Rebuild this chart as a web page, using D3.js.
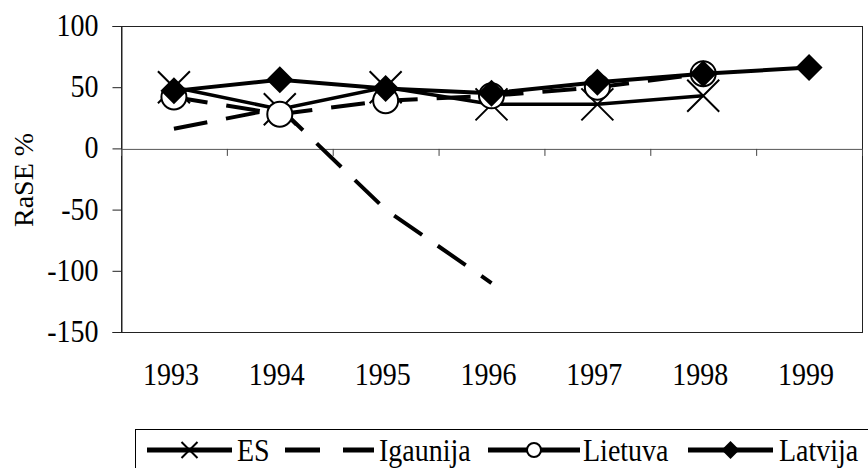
<!DOCTYPE html>
<html lang="en">
<head>
<meta charset="UTF-8">
<title>RaSE %</title>
<script src="https://d3js.org/d3.v7.min.js"></script>
<style>
  body { margin: 0; background: #fff; }
</style>
</head>
<body>
<svg id="chart" width="868" height="468"></svg>
<script>
const years = ["1993", "1994", "1995", "1996", "1997", "1998", "1999"]
const yTicks = [100, 50, 0, -50, -100, -150]
const es = [50, 32, 50, 36, 36, 43, null]
const igaunija = [16, 33, -50, -110, null, null, null]
const lietuva = [42, 28, 39, 43, 50, 61, null]
const latvija = [47, 56, 49, 45, 54, 61, 66]
const seriesNames = ["ES", "Igaunija", "Lietuva", "Latvija"]

const serif = "Liberation Serif"
const fs = "28px"
const sy = 1.12   // the original lettering is a little taller than wide

const svg = d3.select("#chart")
const plotL = 121, plotR = 862, plotT = 26, plotB = 332

const x = d3.scaleBand().domain(years).range([plotL, plotR])
const xb = d3.scaleLinear().domain([0, years.length]).range([plotL, plotR])
const y = d3.scaleLinear().domain([-150, 100]).range([plotB, plotT])
const cx = yr => x(yr) + x.bandwidth() / 2

// plot frame
svg.append("rect")
  .attr("x", plotL + 0.5).attr("y", plotT + 0.5)
  .attr("width", plotR - plotL).attr("height", plotB - plotT)
  .attr("fill", "none").attr("stroke", "#222").attr("stroke-width", 1)

// y axis
svg.append("g")
  .attr("transform", "translate(" + (plotL + 0.5) + ",0)")
  .call(d3.axisLeft(y).tickValues(yTicks).tickSize(9).tickPadding(14).tickFormat(d => String(d)))
  .call(g => g.select(".domain").attr("stroke", "#222"))
  .call(g => g.selectAll("line").attr("stroke", "#222"))
  .call(g => g.selectAll("text").attr("dy", "0.3em").attr("transform", "scale(1," + sy + ")")
    .style("font-size", fs).style("font-family", serif).attr("fill", "#000"))

// zero line with category boundary ticks
svg.append("g")
  .attr("transform", "translate(0," + (y(0) + 0.5) + ")")
  .call(d3.axisBottom(xb).tickValues(d3.range(1, years.length + 1)).tickSize(7).tickFormat(""))
  .call(g => g.select(".domain").attr("stroke", "#555"))
  .call(g => g.selectAll("line").attr("stroke", "#444"))

// year labels below plot
svg.append("g")
  .attr("transform", "translate(-3," + plotB + ")")
  .call(d3.axisBottom(x).tickSize(0))
  .call(g => g.select(".domain").remove())
  .call(g => g.selectAll("text").attr("y", 53 / sy).attr("dy", 0).attr("transform", "scale(1," + sy + ")")
    .style("font-size", fs).style("font-family", serif).attr("fill", "#000"))

// y title
svg.append("text")
  .attr("transform", "translate(33,180) rotate(-90)")
  .attr("text-anchor", "middle")
  .style("font-size", fs).style("font-family", serif)
  .text("RaSE %")

const line = d3.line()
  .defined(d => d.v != null)
  .x(d => cx(d.yr))
  .y(d => y(d.v))
const pts = arr => years.map((yr, i) => ({ yr: yr, v: arr[i] }))

function drawX(g, px, py, r) {
  g.append("path")
    .attr("d", "M" + (px - r) + "," + (py - r) + "L" + (px + r) + "," + (py + r) +
               "M" + (px - r) + "," + (py + r) + "L" + (px + r) + "," + (py - r))
    .attr("stroke", "#000").attr("stroke-width", 2).attr("fill", "none")
}
function drawCircle(g, px, py, r) {
  g.append("circle").attr("cx", px).attr("cy", py).attr("r", r)
    .attr("fill", "#fff").attr("stroke", "#000").attr("stroke-width", 2)
}
function drawDiamond(g, px, py, r) {
  g.append("path")
    .attr("d", "M" + px + "," + (py - r) + "L" + (px + r) + "," + py + "L" + px + "," + (py + r) + "L" + (px - r) + "," + py + "Z")
    .attr("fill", "#000")
}

// ES
svg.append("path").datum(pts(es))
  .attr("fill", "none").attr("stroke", "#000").attr("stroke-width", 3.5).attr("d", line)
pts(es).filter(d => d.v != null).forEach(d => drawX(svg, cx(d.yr), y(d.v), 16))

// Igaunija
svg.append("path").datum(pts(igaunija))
  .attr("fill", "none").attr("stroke", "#000").attr("stroke-width", 4)
  .attr("stroke-dasharray", "34,19").attr("d", line)

// Lietuva
svg.append("path").datum(pts(lietuva))
  .attr("fill", "none").attr("stroke", "#000").attr("stroke-width", 4)
  .attr("stroke-dasharray", "34,19").attr("d", line)
pts(lietuva).filter(d => d.v != null).forEach(d => drawCircle(svg, cx(d.yr), y(d.v), 12.5))

// Latvija
svg.append("path").datum(pts(latvija))
  .attr("fill", "none").attr("stroke", "#000").attr("stroke-width", 4).attr("d", line)
pts(latvija).filter(d => d.v != null).forEach(d => drawDiamond(svg, cx(d.yr), y(d.v), 13.5))

// legend
const lg = svg.append("g")
lg.append("rect")
  .attr("x", 135.5).attr("y", 429.5).attr("width", 760).attr("height", 60)
  .attr("fill", "#fff").attr("stroke", "#000").attr("stroke-width", 1)
const ly = 450
const legendItems = [
  { name: seriesNames[0], x0: 147, x1: 232, tx: 237, mark: drawX, r: 8, dash: null },
  { name: seriesNames[1], x0: 285, x1: 374, tx: 379, mark: null, r: 0, dash: "35,23" },
  { name: seriesNames[2], x0: 488, x1: 580, tx: 583, mark: drawCircle, r: 7, dash: null },
  { name: seriesNames[3], x0: 688, x1: 773, tx: 779, mark: drawDiamond, r: 9, dash: null }
]
legendItems.forEach(it => {
  lg.append("line")
    .attr("x1", it.x0).attr("x2", it.x1).attr("y1", ly).attr("y2", ly)
    .attr("stroke", "#000").attr("stroke-width", 5)
    .attr("stroke-dasharray", it.dash)
  if (it.mark) it.mark(lg, (it.x0 + it.x1) / 2, ly, it.r)
  lg.append("text")
    .attr("x", it.tx).attr("y", (ly + 11) / sy)
    .attr("transform", "scale(1," + sy + ")")
    .style("font-size", fs).style("font-family", serif)
    .text(it.name)
})
</script>
</body>
</html>
